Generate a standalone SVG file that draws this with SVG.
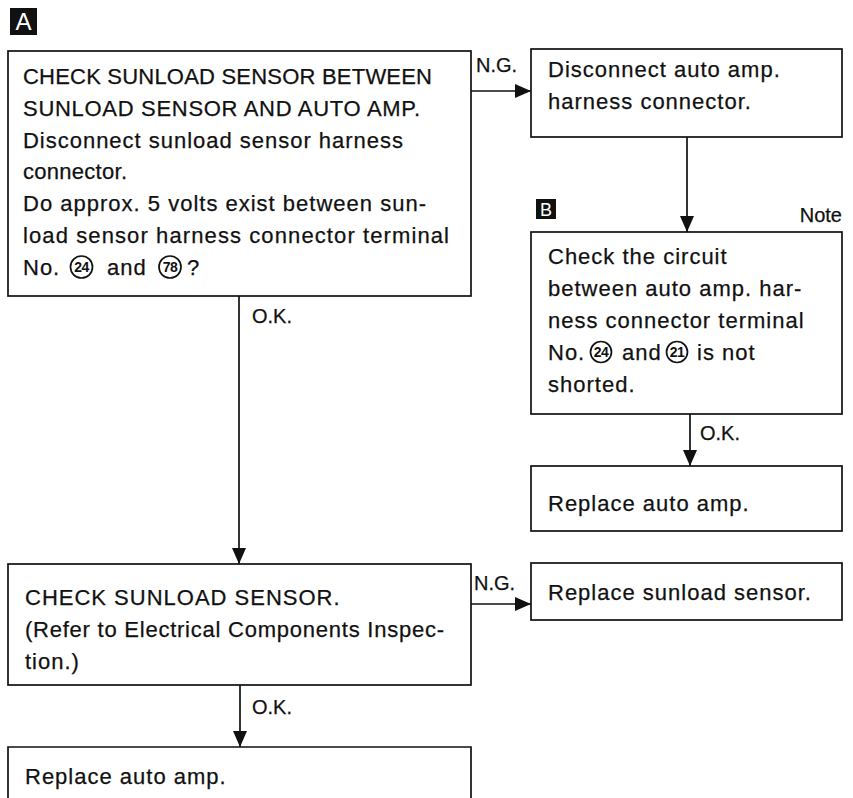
<svg xmlns="http://www.w3.org/2000/svg" width="853" height="798" viewBox="0 0 853 798">
  <style>
    .box { fill: #fff; stroke: #111; stroke-width: 1.7; }
    .t { font-family: "Liberation Sans", Arial, sans-serif; font-size: 22px; fill: #111; stroke: #111; stroke-width: 0.25; letter-spacing: 1px; }
    .lbl { font-family: "Liberation Sans", Arial, sans-serif; font-size: 20px; fill: #111; stroke: #111; stroke-width: 0.25; }
    .num { font-family: "Liberation Sans Narrow", "Liberation Sans", Arial, sans-serif; font-size: 14px; font-weight: bold; fill: #111; text-anchor: middle; letter-spacing: -0.5px; }
    .circ { fill: none; stroke: #111; stroke-width: 1.7; }
    .tag { fill: #111; }
    .tagtxt { font-family: "Liberation Sans", Arial, sans-serif; fill: #fff; text-anchor: middle; }
    .conn { fill: none; stroke: #111; stroke-width: 1.7; }
  </style>
  <defs>
    <marker id="arrow" markerUnits="userSpaceOnUse" markerWidth="16" markerHeight="14" refX="16" refY="7" orient="auto">
      <path d="M0,0 L16,7 L0,14 Z" fill="#111"/>
    </marker>
  </defs>

  <rect width="853" height="798" fill="#fff"/>

  <!-- section tags -->
  <g id="tag-a">
    <rect class="tag" x="10" y="8" width="27" height="27"/>
    <text class="tagtxt" x="23.5" y="30" font-size="24">A</text>
  </g>
  <g id="tag-b">
    <rect class="tag" x="536" y="199" width="20" height="20"/>
    <text class="tagtxt" x="546" y="216" font-size="18">B</text>
  </g>

  <!-- connectors -->
  <g id="connectors">
    <path class="conn" d="M471,91 H531" marker-end="url(#arrow)"/>
    <path class="conn" d="M687,137 V232" marker-end="url(#arrow)"/>
    <path class="conn" d="M690,414 V466" marker-end="url(#arrow)"/>
    <path class="conn" d="M239,296 V564" marker-end="url(#arrow)"/>
    <path class="conn" d="M471,604 H531" marker-end="url(#arrow)"/>
    <path class="conn" d="M240,685 V747" marker-end="url(#arrow)"/>
    <text class="lbl" x="476" y="72">N.G.</text>
    <text class="lbl" x="252" y="323">O.K.</text>
    <text class="lbl" x="700" y="440">O.K.</text>
    <text class="lbl" x="474" y="590">N.G.</text>
    <text class="lbl" x="252" y="714">O.K.</text>
  </g>

  <!-- check between sensor and amp -->
  <g id="check-circuit">
    <rect class="box" x="8" y="51" width="463" height="245"/>
    <text class="t" x="23" y="84" textLength="410">CHECK SUNLOAD SENSOR BETWEEN</text>
    <text class="t" x="23" y="116" textLength="398">SUNLOAD SENSOR AND AUTO AMP.</text>
    <text class="t" x="23" y="148" textLength="381">Disconnect sunload sensor harness</text>
    <text class="t" x="23" y="179" textLength="105">connector.</text>
    <text class="t" x="23" y="211" textLength="404">Do approx. 5 volts exist between sun-</text>
    <text class="t" x="23" y="243" textLength="427">load sensor harness connector terminal</text>
    <text class="t" x="23" y="275">No.</text>
    <circle class="circ" cx="81.5" cy="267" r="11"/>
    <text class="num" x="81.5" y="272">24</text>
    <text class="t" x="107" y="275">and</text>
    <circle class="circ" cx="170" cy="267" r="11"/>
    <text class="num" x="170" y="272">78</text>
    <text class="t" x="187" y="275">?</text>
  </g>

  <g id="disconnect-amp">
    <rect class="box" x="531" y="49" width="311" height="88"/>
    <text class="t" x="548" y="77">Disconnect auto amp.</text>
    <text class="t" x="548" y="109">harness connector.</text>
  </g>

  <g id="check-short">
    <text class="lbl" x="842" y="222" text-anchor="end">Note</text>
    <rect class="box" x="531" y="232" width="311" height="182"/>
    <text class="t" x="548" y="264">Check the circuit</text>
    <text class="t" x="548" y="296">between auto amp. har-</text>
    <text class="t" x="548" y="328">ness connector terminal</text>
    <text class="t" x="548" y="360">No.</text>
    <circle class="circ" cx="601" cy="352" r="10.5"/>
    <text class="num" x="601" y="357">24</text>
    <text class="t" x="622" y="360">and</text>
    <circle class="circ" cx="677" cy="352" r="10.5"/>
    <text class="num" x="677" y="357">21</text>
    <text class="t" x="697" y="360">is not</text>
    <text class="t" x="548" y="392">shorted.</text>
  </g>

  <g id="replace-amp-1">
    <rect class="box" x="531" y="466" width="311" height="65"/>
    <text class="t" x="548" y="511">Replace auto amp.</text>
  </g>

  <g id="check-sensor">
    <rect class="box" x="8" y="564" width="463" height="121"/>
    <text class="t" x="25" y="605">CHECK SUNLOAD SENSOR.</text>
    <text class="t" x="25" y="637" textLength="420">(Refer to Electrical Components Inspec-</text>
    <text class="t" x="25" y="669">tion.)</text>
  </g>

  <g id="replace-sensor">
    <rect class="box" x="531" y="563" width="311" height="57"/>
    <text class="t" x="548" y="600">Replace sunload sensor.</text>
  </g>

  <g id="replace-amp-2">
    <path class="box" d="M8,800 V747 H471 V800"/>
    <text class="t" x="25" y="784">Replace auto amp.</text>
  </g>
</svg>
